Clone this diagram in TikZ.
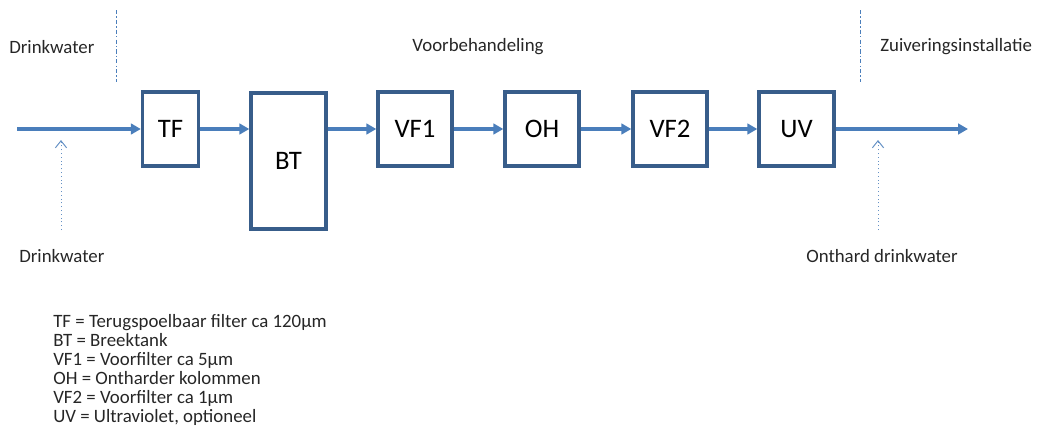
\documentclass[tikz,border=0pt]{standalone}
\usepackage{fontspec}
\setmainfont{Carlito}
\usetikzlibrary{arrows.meta,positioning,calc}
\definecolor{boxblue}{RGB}{56,93,138}
\definecolor{flowblue}{RGB}{74,126,187}
\tikzset{
  unit/.style={draw=boxblue, line width=2.4pt, fill=white, minimum width=1.85cm, minimum height=1.85cm, font=\fontsize{19}{22}\selectfont, inner sep=0pt},
  flow/.style={flowblue, line width=2.3pt, -{Triangle[length=7pt,width=7.5pt]}},
  feed/.style={flowblue!85, line width=0.7pt, dotted, -{Straight Barb[length=5pt,width=8pt]}},
  border/.style={flowblue, line width=0.7pt, dash pattern=on 3pt off 1.5pt on 1pt off 1.5pt},
  lbl/.style={font=\fontsize{13.4}{13.5}\selectfont, text=black!85, inner sep=0pt}
}
\begin{document}
\begin{tikzpicture}[x=0.025cm, y=-0.025cm]
\useasboundingbox (0,0) rectangle (1039,447);

% grenzen
\draw[border] (116,10) -- (116,82);
\draw[border] (860,10) -- (860,82);
\node[lbl, anchor=west] (drinkwater) at (9,47) {Drinkwater};
\node[lbl] (voorbeh) at (478,47) {Voorbehandeling};
\node[lbl, anchor=west] (zuivering) at (880,47) {Zuiveringsinstallatie};

% processtappen
\node[unit, minimum width=1.4cm] (TF) at (170.5,129) {TF};
\node[unit, minimum width=1.875cm, minimum height=3.4cm] (BT) at (288.5,161) {BT};
\node[unit] (VF1) at (415,129) {VF1};
\node[unit] (OH) at (542,129) {OH};
\node[unit] (VF2) at (670,129) {VF2};
\node[unit, minimum width=1.875cm] (UV) at (796.5,129) {UV};

\coordinate (in) at (17,129);
\coordinate (out) at (968,129);
\draw[flow] (in) -- (TF.west);
\draw[flow] (TF.east) -- (TF.east -| BT.west);
\draw[flow] (TF.east -| BT.east) -- (VF1.west);
\draw[flow] (VF1) -- (OH);
\draw[flow] (OH) -- (VF2);
\draw[flow] (VF2) -- (UV);
\draw[flow] (UV.east) -- (out);

% aanvoer / afvoer
\node[lbl, anchor=west] (drinkin) at (19,256) {Drinkwater};
\node[lbl] (onthard) at (882,256) {Onthard drinkwater};
\coordinate (inbot) at (61,230);
\coordinate (intop) at (61,140);
\coordinate (outbot) at (878,230);
\coordinate (outtop) at (878,140);
\draw[feed] (inbot) -- (intop);
\draw[feed] (outbot) -- (outtop);

% legenda
\node[lbl, anchor=north west, align=left] (legenda) at (53,314) {%
TF = Terugspoelbaar filter ca 120µm\\
BT = Breektank\\
VF1 = Voorfilter ca 5µm\\
OH = Ontharder kolommen\\
VF2 = Voorfilter ca 1µm\\
UV = Ultraviolet, optioneel};

\end{tikzpicture}
\end{document}
